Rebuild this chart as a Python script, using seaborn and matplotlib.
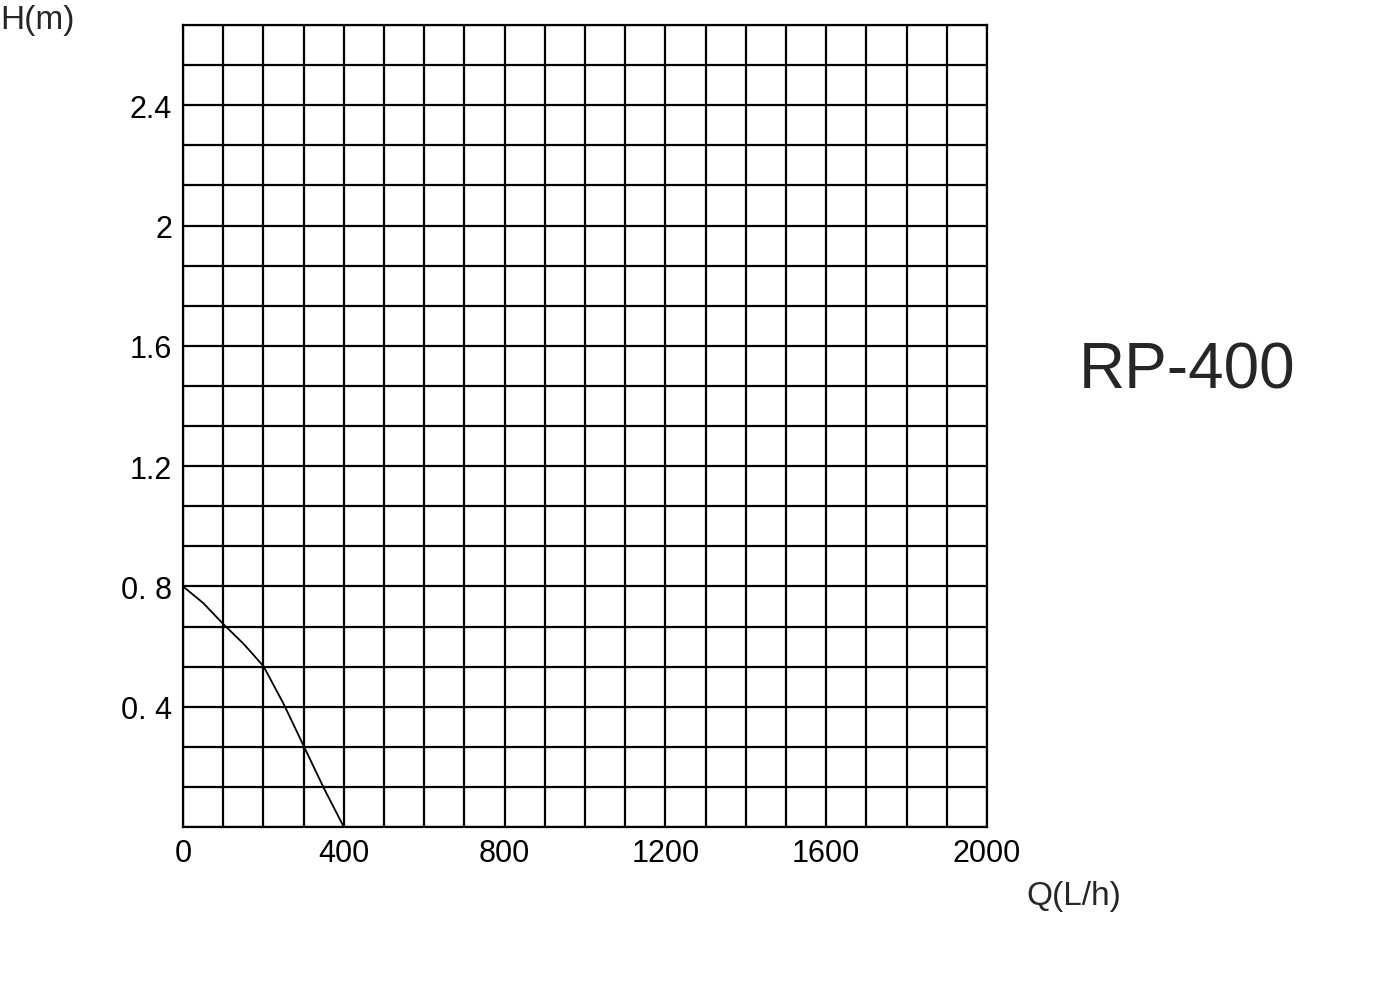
import matplotlib
matplotlib.use("Agg")
import matplotlib.pyplot as plt
import numpy as np
import pandas as pd
import seaborn as sns

# pump curve
flow = [0, 50, 100, 150, 200, 250, 300, 350, 400]
head = [0.80, 0.745, 0.675, 0.61, 0.535, 0.41, 0.27, 0.13, 0.0]

y_ticks = [0.4, 0.8, 1.2, 1.6, 2.0, 2.4]
y_labels = ["0. 4", "0. 8", "1.2", "1.6", "2", "2.4"]
x_ticks = [0, 400, 800, 1200, 1600, 2000]

sns.set_theme(style="white")
plt.rcParams["font.family"] = ["Liberation Sans", "DejaVu Sans"]

fig = plt.figure(figsize=(13.92, 10.04), dpi=100)
ax = fig.add_axes([0.1315, 0.1753, 0.5775, 0.7987])

df = pd.DataFrame({"Q": flow, "H": head})
sns.lineplot(data=df, x="Q", y="H", ax=ax, color="black", linewidth=1.3)

ax.set_xlim(0, 2000)
ax.set_ylim(0, 0.4 / 3 * 20)
for x in np.arange(0, 2001, 100):
    ax.axvline(x, color="black", linewidth=1.6, zorder=0)
for y in np.arange(0, 21) * (0.4 / 3):
    ax.axhline(y, color="black", linewidth=1.6, zorder=0)
for s in ax.spines.values():
    s.set_color("black")
    s.set_linewidth(1.6)

ax.set_xticks(x_ticks)
ax.set_xticklabels([str(t) for t in x_ticks], fontsize=22)
ax.set_yticks(y_ticks)
ax.set_yticklabels(y_labels, fontsize=22)
ax.tick_params(length=0, pad=8, colors="black")
ax.set_xlabel("")
ax.set_ylabel("")

fig.text(0.0, 0.98, "H(m)", fontsize=24, ha="left", va="center")
fig.text(0.737, 0.107, "Q(L/h)", fontsize=24, ha="left", va="center")
fig.text(0.775, 0.63, "RP-400", fontsize=46, ha="left", va="center")

fig.savefig("out.png", dpi=100)
